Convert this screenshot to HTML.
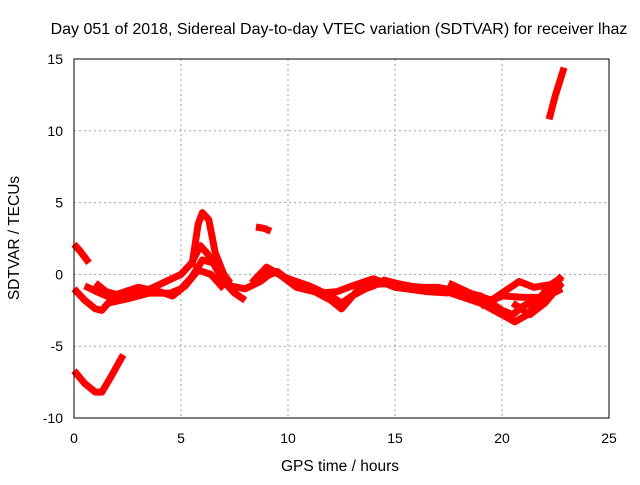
<!DOCTYPE html>
<html><head><meta charset="utf-8"><style>
body{margin:0;background:#fff;}
svg text{font-family:"Liberation Sans",sans-serif;font-size:14px;fill:#000;}
</style></head><body>
<svg width="640" height="480">
<text x="339" y="34" text-anchor="middle" style="font-size:16px">Day 051 of 2018, Sidereal Day-to-day VTEC variation (SDTVAR) for receiver lhaz</text>
<g id="grid"></g>
<g id="ticks"></g>
<g id="series"></g>
<rect x="74" y="59" width="535" height="359" fill="none" stroke="#000" stroke-width="1"/>
<text x="340" y="471" text-anchor="middle" style="font-size:15.5px">GPS time / hours</text>
<text transform="translate(19,238) rotate(-90)" text-anchor="middle" style="font-size:15.5px">SDTVAR / TECUs</text>
</svg>
<script>
const xTicks=[0,5,10,15,20,25];
const yTicks=[-10,-5,0,5,10,15];
const seriesSteep=[[22.2,10.8],[22.5,12.5],[22.9,14.4]];
const seriesBlob=[[8.5,3.3],[8.9,3.2],[9.2,3.0]];
const seriesStart=[[0,2.1],[0.3,1.6],[0.7,0.8]];
const seriesDip=[[0,-6.7],[0.5,-7.6],[1,-8.2],[1.3,-8.2],[1.7,-7.2],[2.3,-5.6]];
const track1=[[0,-1.0],[0.5,-1.8],[1.0,-2.4],[1.3,-2.5],[1.6,-2.0],[2.5,-1.7],[3.5,-1.3],[4.5,-1.3],[5.0,-1.0],[5.5,-0.2],[6,1.0],[6.5,0.8],[7,-0.5],[7.5,-1.3],[8,-1.8]];
const track2=[[0.5,-0.8],[1.2,-1.3],[2,-1.8],[3,-1.4],[4,-0.7],[5,0.0],[5.5,0.8],[5.9,2.0],[6.2,1.5],[6.8,0.3],[7.3,-0.8],[8,-1.0],[8.7,-0.5],[9.3,0.2],[10,-0.3],[11,-0.8],[12,-1.5],[12.5,-2.0],[13,-1.5],[14,-0.7],[15,-0.6],[16,-0.9],[17,-0.9],[18,-1.2],[19,-1.5],[20,-2.5],[20.5,-2.8],[21,-2.2],[22,-1.4],[22.8,-0.1]];
const trackPeak=[[5.5,0.5],[5.8,3.5],[6.0,4.3],[6.3,3.8],[6.6,1.5],[7,0],[7.3,-0.6]];
const track3=[[8.7,-0.3],[9.5,0.2],[10.2,-0.6],[11,-1.0],[12,-1.8],[12.5,-2.4],[13.2,-1.2],[14,-0.8],[14.5,-0.4],[15.5,-0.8],[17,-1.0],[18,-1.5],[19,-2.0],[20,-2.8],[20.6,-3.3],[21.2,-2.8],[22,-1.2],[22.8,-0.5]];
const track4=[[17.5,-0.6],[18.5,-1.3],[19.5,-1.8],[20.3,-1.0],[20.8,-0.5],[21.5,-0.9],[22.3,-0.7],[22.8,-0.2]];
const track5=[[19,-2.2],[20,-1.5],[21,-1.6],[22,-1.6],[22.8,-1.0]];
const track6=[[20.5,-2.0],[21.3,-2.8],[22,-2.0],[22.8,-0.6]];
const track7=[[1.0,-0.6],[1.5,-1.2],[2,-1.4],[3,-0.9],[4,-1.2],[4.6,-1.5],[5.2,-0.8],[5.8,0.3],[6.4,0.0],[7,-1.0]];
const track8=[[8.3,-0.6],[9,0.5],[9.6,0.0],[10.4,-0.9],[11.5,-1.3],[12.3,-1.2],[13,-0.8],[14,-0.3],[15,-0.9],[16.5,-1.2],[17.5,-1.3]];
const allSeries=[seriesSteep,seriesBlob,seriesStart,seriesDip,track1,track2,trackPeak,track3,track4,track5,track6,track7,track8];
const X0=74,X1=609,Y0=418,Y1=59;
function xs(v){return X0+(v-0)/(25-0)*(X1-X0);}
function ys(v){return Y0-(v+10)/(25)*(Y0-Y1);}
const NS="http://www.w3.org/2000/svg";
const grid=document.getElementById('grid'),ticks=document.getElementById('ticks'),ser=document.getElementById('series');
xTicks.forEach(t=>{const x=xs(t);
 if(t>0&&t<25){const l=document.createElementNS(NS,'line');
 
 
 l.setAttribute('x1',x);l.setAttribute('x2',x);l.setAttribute('y1',Y1);l.setAttribute('y2',Y0);l.setAttribute('stroke','#a0a0a0');l.setAttribute('stroke-dasharray','2,3');grid.appendChild(l);}
 const tx=document.createElementNS(NS,'text');
 
 
 tx.setAttribute('x',x);tx.setAttribute('y',443);tx.setAttribute('text-anchor','middle');tx.textContent=t;ticks.appendChild(tx);});
yTicks.forEach(t=>{const y=ys(t);
 if(t>-10&&t<15){const l=document.createElementNS(NS,'line');
 
 
 l.setAttribute('x1',X0);l.setAttribute('x2',X1);l.setAttribute('y1',y);l.setAttribute('y2',y);l.setAttribute('stroke','#a0a0a0');l.setAttribute('stroke-dasharray','2,3');grid.appendChild(l);}
 const tx=document.createElementNS(NS,'text');
 
 
 tx.setAttribute('x',63);tx.setAttribute('y',y+5);tx.setAttribute('text-anchor','end');tx.textContent=t;ticks.appendChild(tx);});
allSeries.forEach(s=>{const p=document.createElementNS(NS,'polyline');
 
 
 p.setAttribute('points',s.map(d=>xs(d[0])+','+ys(d[1])).join(' '));
 p.setAttribute('fill','none');p.setAttribute('stroke','#ff0000');p.setAttribute('stroke-width','7');p.setAttribute('stroke-linejoin','round');ser.appendChild(p);});
</script>
</body></html>
